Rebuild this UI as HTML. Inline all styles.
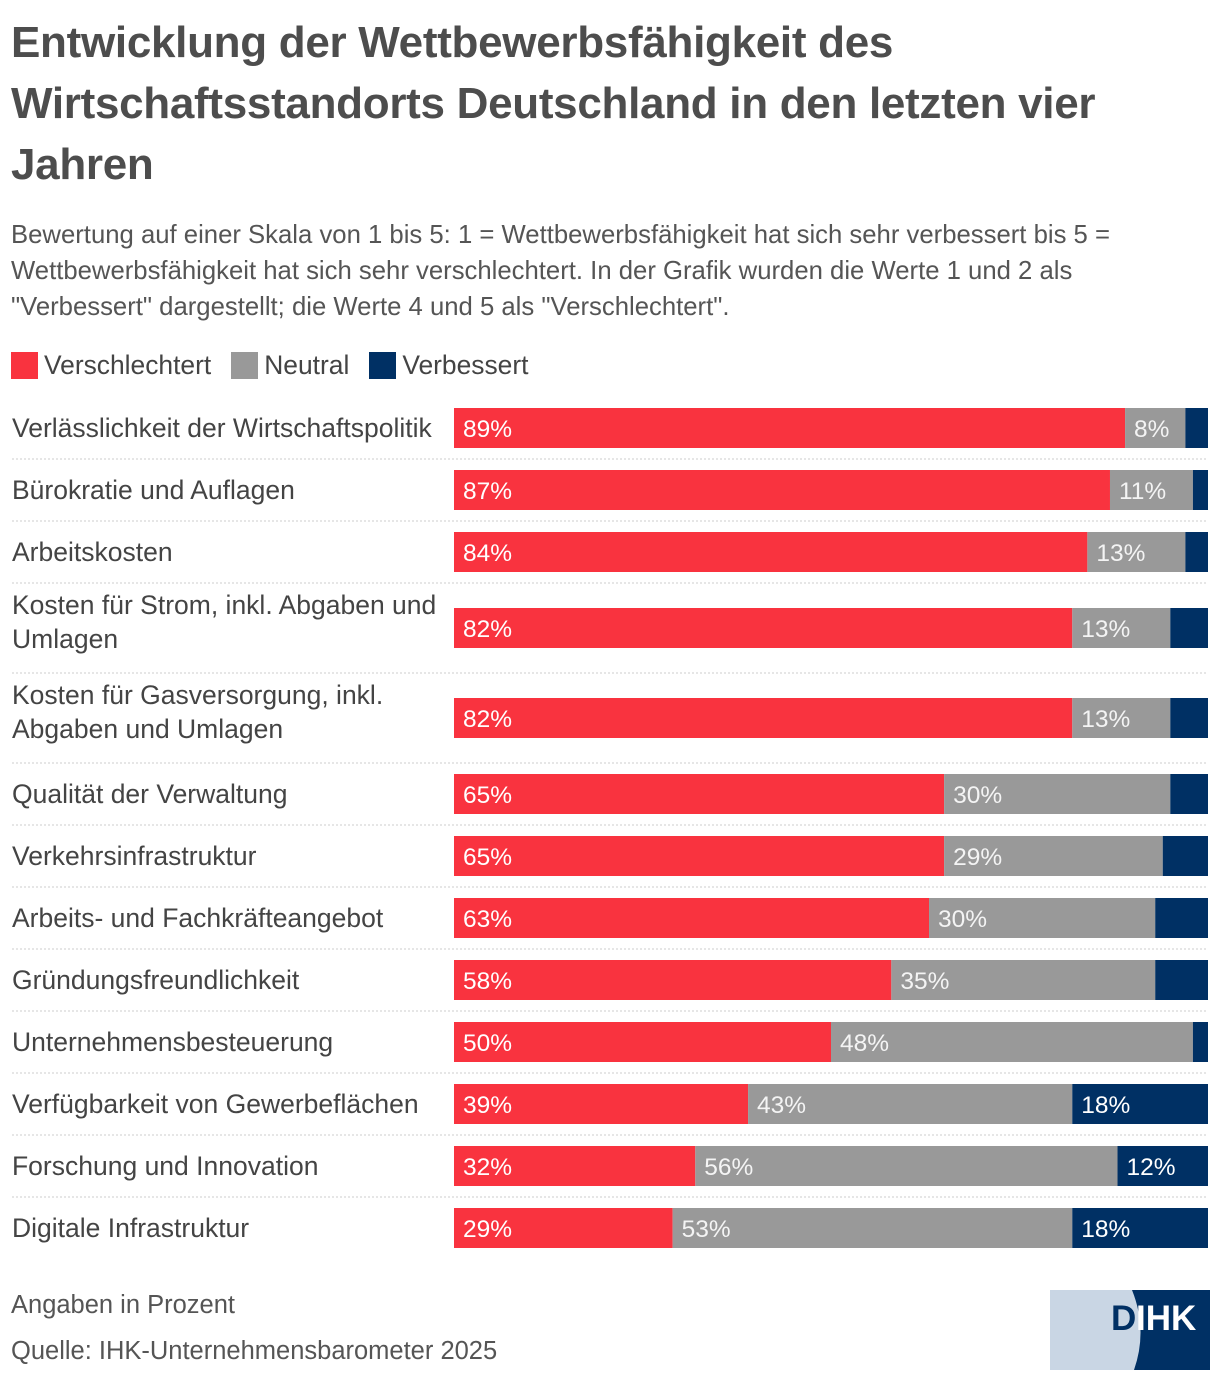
<!DOCTYPE html>
<html><head><meta charset="utf-8"><style>
body{margin:0;width:1220px;height:1380px;background:#fff;font-family:"Source Sans Pro","Liberation Sans",sans-serif;color:#333;position:relative;overflow:hidden}
h1{position:absolute;left:11px;top:12px;margin:0;font-size:44px;line-height:61px;font-weight:bold;color:#4d4d4d;width:1210px;letter-spacing:-0.3px;white-space:nowrap}
.sub{position:absolute;left:11px;top:217px;font-size:25.7px;line-height:36px;color:#555;width:1210px;white-space:nowrap}
.legend{position:absolute;left:11px;top:350px;font-size:26.4px;color:#444;display:flex;gap:0}
.legend span{display:inline-flex;align-items:center;margin-right:20px}
.legend i{display:inline-block;width:27px;height:27px;margin-right:6px}
.foot{position:absolute;left:11px;font-size:25.5px;color:#555}
</style></head><body>
<h1>Entwicklung der Wettbewerbsfähigkeit des<br>Wirtschaftsstandorts Deutschland in den letzten vier<br>Jahren</h1>
<div class="sub">Bewertung auf einer Skala von 1 bis 5: 1 = Wettbewerbsfähigkeit hat sich sehr verbessert bis 5 =<br>Wettbewerbsfähigkeit hat sich sehr verschlechtert. In der Grafik wurden die Werte 1 und 2 als<br>"Verbessert" dargestellt; die Werte 4 und 5 als "Verschlechtert".</div>
<div class="legend">
<span><i style="background:#f9333f"></i>Verschlechtert</span>
<span><i style="background:#999"></i>Neutral</span>
<span><i style="background:#003064"></i>Verbessert</span>
</div>
<svg id="chart" style="position:absolute;left:0;top:0" width="1220" height="1380"></svg>
<div class="foot" style="top:1291px">Angaben in Prozent</div>
<div class="foot" style="top:1337px">Quelle: IHK-Unternehmensbarometer 2025</div>
<svg style="position:absolute;left:1050px;top:1290px" width="160" height="80">
<rect width="160" height="80" fill="#c9d6e4"/>
<path d="M82 0 Q98 40 84 80 L160 80 L160 0 Z" fill="#003064"/>
<text x="61" y="40" font-family="Liberation Sans" font-weight="bold" font-size="35" fill="#003064">D</text>
<text x="86" y="40" font-family="Liberation Sans" font-weight="bold" font-size="35" fill="#fff">IHK</text>
</svg>
<script>
const categories=[["Verlässlichkeit der Wirtschaftspolitik"],["Bürokratie und Auflagen"],["Arbeitskosten"],["Kosten für Strom, inkl. Abgaben und","Umlagen"],["Kosten für Gasversorgung, inkl.","Abgaben und Umlagen"],["Qualität der Verwaltung"],["Verkehrsinfrastruktur"],["Arbeits- und Fachkräfteangebot"],["Gründungsfreundlichkeit"],["Unternehmensbesteuerung"],["Verfügbarkeit von Gewerbeflächen"],["Forschung und Innovation"],["Digitale Infrastruktur"]];
const verschlechtert=[89,87,84,82,82,65,65,63,58,50,39,32,29];
const neutral=[8,11,13,13,13,30,29,30,35,48,43,56,53];
const verbessert=[3,2,3,5,5,5,6,7,7,2,18,12,18];
const svg=document.getElementById('chart');
const NS='http://www.w3.org/2000/svg';
const x0=454,W=754;
const xs=v=>v/100*W;
function mk(t,a){const e=document.createElementNS(NS,t);for(const k in a)e.setAttribute(k,a[k]);svg.appendChild(e);return e;}
let y=398;
const colors=['#f9333f','#999999','#003064'];
const series=[verschlechtert,neutral,verbessert];
categories.forEach((c,i)=>{
  const h=c.length>1?90:62;
  const barY=y+(h-40)/2-1;
  c.forEach((line,j)=>{
    const t=mk('text',{x:12,y:c.length>1?y+30+j*34:y+39,'font-size':26.5,fill:'#444','font-family':'Source Sans Pro, Liberation Sans, sans-serif'});
    t.textContent=line;
    
    
  });
  let cx=x0;
  series.forEach((s,k)=>{
    const w=xs(s[i]);
    const r=mk('rect',{x:cx,y:barY,width:w,height:40,fill:colors[k]});
    
    
    if(s[i]>=8){
      const t=mk('text',{x:cx+9,y:barY+29,'font-size':24.5,fill:k==1?'#f4f4f4':'#fff','font-family':'Source Sans Pro, Liberation Sans, sans-serif'});
      t.textContent=s[i]+'%';
      
      
    }
    cx+=w;
  });
  if(i<categories.length-1){
    const l=mk('line',{x1:12,x2:1208,y1:y+h-1,y2:y+h-1,stroke:'#ccc','stroke-dasharray':'2,2'});
    
    
  }
  y+=h;
});
</script>
</body></html>
